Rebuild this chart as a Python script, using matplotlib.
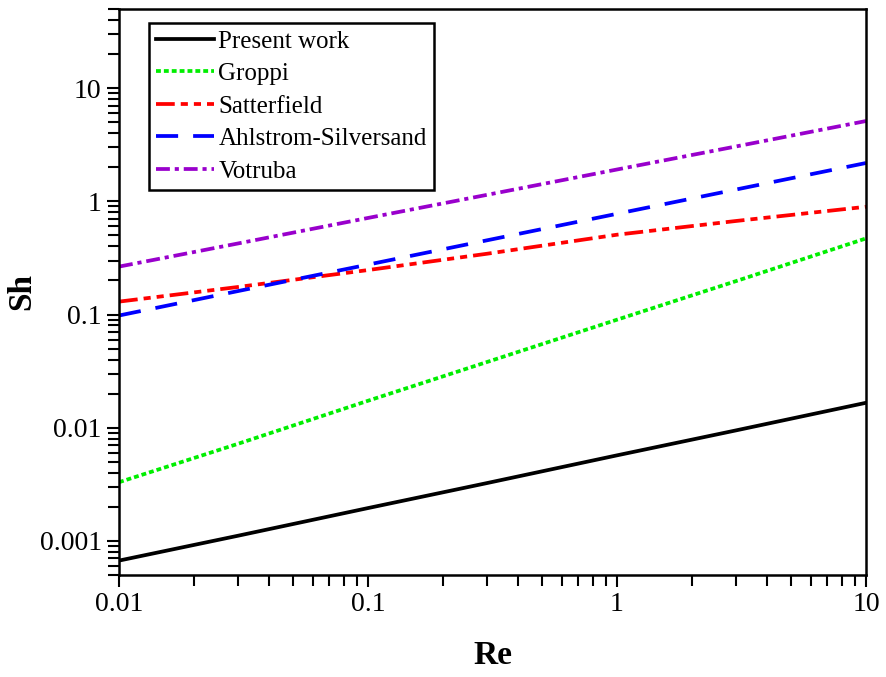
import matplotlib
matplotlib.use('Agg')
import matplotlib.pyplot as plt
from matplotlib.ticker import FixedLocator, LogLocator, NullFormatter

plt.rcParams['font.family'] = ['Liberation Serif', 'DejaVu Serif']

# Reynolds numbers shared by all correlations
re = [0.01, 0.03, 0.1, 0.3, 1, 3, 10]

# Sherwood number for each correlation
sh_present = [0.00067, 0.00111, 0.00195, 0.00324, 0.0057, 0.00946, 0.0166]
sh_groppi = [0.0033, 0.0072, 0.0173, 0.038, 0.090, 0.197, 0.47]
sh_satterfield = [0.130, 0.175, 0.247, 0.344, 0.507, 0.670, 0.895]
sh_ahlstrom = [0.098, 0.161, 0.276, 0.452, 0.776, 1.27, 2.18]
sh_votruba = [0.265, 0.424, 0.713, 1.14, 1.91, 3.05, 5.12]

labels = ['Present work', 'Groppi', 'Satterfield', 'Ahlstrom-Silversand', 'Votruba']

fig = plt.figure(figsize=(8.87, 6.77), dpi=100)
ax = fig.add_axes([0.1342, 0.1507, 0.8421, 0.836])

lw = 2.7
ax.plot(re, sh_present, color='black', lw=lw, label=labels[0])
ax.plot(re, sh_groppi, color='#00ee00', lw=lw, dashes=(1.3, 0.8), label=labels[1])
ax.plot(re, sh_satterfield, color='#ff0000', lw=lw, dashes=(5.0, 1.6, 1.9, 1.6, 1.9, 1.6),
        label=labels[2])
ax.plot(re, sh_ahlstrom, color='#0000ff', lw=lw, dashes=(5.9, 4.0), label=labels[3])
ax.plot(re, sh_votruba, color='#9900cc', lw=lw, dashes=(3.7, 1.3, 1.1, 1.3), label=labels[4])

ax.set_xscale('log')
ax.set_yscale('log')
ax.set_xlim(0.01, 10)
ax.set_ylim(5e-4, 50)

ax.xaxis.set_major_locator(FixedLocator([0.01, 0.1, 1, 10]))
ax.set_xticklabels(['0.01', '0.1', '1', '10'])
ax.yaxis.set_major_locator(FixedLocator([0.001, 0.01, 0.1, 1, 10]))
ax.set_yticklabels(['0.001', '0.01', '0.1', '1', '10'])
ax.xaxis.set_minor_locator(LogLocator(base=10, subs=range(2, 10)))
ax.yaxis.set_minor_locator(LogLocator(base=10, subs=range(2, 10)))
ax.xaxis.set_minor_formatter(NullFormatter())
ax.yaxis.set_minor_formatter(NullFormatter())

ax.tick_params(which='both', direction='out', top=False, right=False,
               width=1.5, labelsize=20, pad=4)
ax.tick_params(which='major', length=8.5)
ax.tick_params(which='minor', length=8)

for sp in ax.spines.values():
    sp.set_linewidth(1.8)

ax.set_xlabel('Re', fontsize=24, fontweight='bold', labelpad=16)
ax.set_ylabel('Sh', fontsize=24, fontweight='bold', labelpad=2)

leg = ax.legend(loc='upper left', bbox_to_anchor=(0.04, 0.976), fontsize=18,
                frameon=True, fancybox=False, edgecolor='black', framealpha=1,
                handlelength=2.3, handletextpad=0.18, labelspacing=0.4,
                borderpad=0.3, borderaxespad=0)
leg.get_frame().set_linewidth(1.8)

plt.savefig('out.png', dpi=100)
